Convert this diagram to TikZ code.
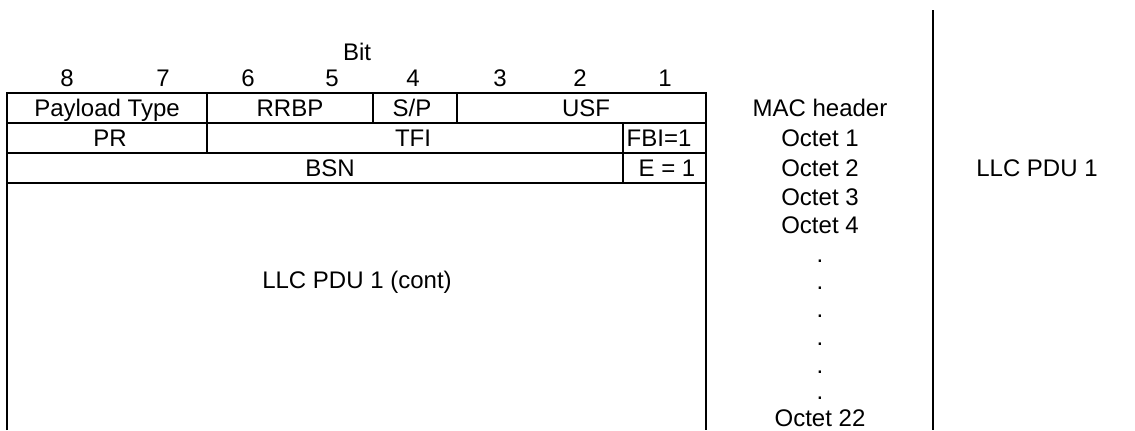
\documentclass[tikz,border=0pt]{standalone}
\usepackage{fontspec}
\setmainfont{Liberation Sans}
\begin{document}
\begin{tikzpicture}
[x=0.5pt,y=-0.5pt,
  lineDecorate/.style={-,line width=1pt},%
  textDecorate/.style={anchor=base,inner sep=0pt,font=\fontsize{12pt}{14pt}\selectfont}]
\useasboundingbox (0,0) rectangle (1135,430);
%% bit numbers
\node (bit) at (357,60) [textDecorate] {Bit};
\foreach \nodename/\x in {8/67, 7/163, 6/248, 5/332, 4/413, 3/500, 2/580, 1/665}
{
  \node (b\nodename) at (\x,86.7) [textDecorate] {\nodename};
}
%% table lines
\draw[lineDecorate] (7,430) -- (7,93) -- (706,93) -- (706,430);
\foreach \y in {123,153,183}
{
  \draw[lineDecorate] (7,\y) -- (706,\y);
}
\draw[lineDecorate] (207,93) -- (207,153);
\draw[lineDecorate] (373,93) -- (373,123);
\draw[lineDecorate] (457,93) -- (457,123);
\draw[lineDecorate] (623,123) -- (623,183);
\draw[lineDecorate] (933,10) -- (933,430);
%% fields
\foreach \nodename/\x/\y/\txt in {
  ptype/107/116.7/{Payload Type}, rrbp/290/116.7/{RRBP}, sp/412/116.7/{S/P},
  usf/586/116.7/{USF}, pr/110/146.7/{PR}, tfi/413/146.7/{TFI},
  fbi/659/146.7/{FBI=1}, bsn/330/176.5/{BSN}, ext/667/176.5/{E = 1},
  cont/357/288/{LLC PDU 1 (cont)}, pdu/1037/176.5/{LLC PDU 1}}
{
  \node (\nodename) at (\x,\y) [textDecorate] {\txt};
}
%% octets
\foreach \nodename/\y/\txt in {
  mac/116.7/{MAC header}, o1/146.7/{Octet 1}, o2/176.5/{Octet 2},
  o3/205/{Octet 3}, o4/233/{Octet 4}, d1/262/{.}, d2/289/{.}, d3/317/{.},
  d4/345/{.}, d5/373/{.}, d6/399/{.}, o22/426/{Octet 22}}
{
  \node (\nodename) at (820,\y) [textDecorate] {\txt};
}
\end{tikzpicture}
\end{document}
